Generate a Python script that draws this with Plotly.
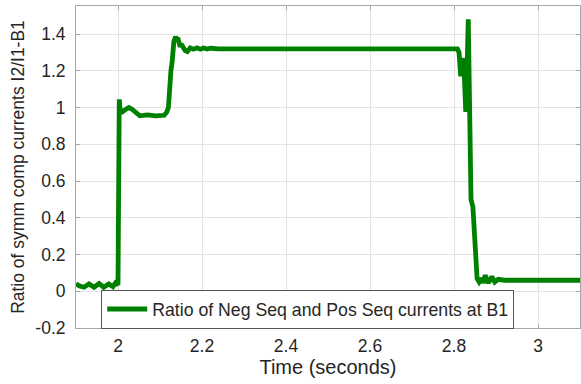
import plotly.graph_objects as go

t = [1.900, 1.907, 1.919, 1.931, 1.943, 1.955, 1.966, 1.978, 1.988, 1.994, 2.000, 2.0015, 2.003, 2.0045,
     2.006, 2.010, 2.018, 2.026, 2.034, 2.044, 2.052, 2.070, 2.090, 2.110, 2.116, 2.120, 2.123,
     2.126, 2.129, 2.133, 2.137, 2.140, 2.142, 2.147, 2.152, 2.160, 2.165, 2.172, 2.180, 2.188,
     2.196, 2.204, 2.212, 2.220, 2.240, 2.400, 2.600, 2.808, 2.812, 2.816, 2.819, 2.8225, 2.825,
     2.828, 2.831, 2.834, 2.8405, 2.845, 2.855, 2.860, 2.866, 2.870, 2.874, 2.882, 2.890, 2.897,
     2.905, 2.920, 3.000, 3.100]
ratio = [0.042, 0.030, 0.022, 0.040, 0.022, 0.042, 0.022, 0.040, 0.025, 0.045, 0.035, 0.60, 1.045, 1.00,
         0.975, 0.975, 0.990, 1.000, 0.990, 0.970, 0.955, 0.960, 0.955, 0.958, 0.975, 1.000, 1.150,
         1.200, 1.250, 1.360, 1.385, 1.370, 1.380, 1.340, 1.340, 1.310, 1.305, 1.325, 1.318, 1.325,
         1.318, 1.324, 1.319, 1.323, 1.320, 1.320, 1.320, 1.320, 1.300, 1.170, 1.250, 1.268, 1.150,
         0.977, 1.200, 1.480, 0.500, 0.460, 0.069, 0.050, 0.070, 0.045, 0.087, 0.045, 0.080, 0.050,
         0.065, 0.060, 0.060, 0.060]

x_ticks = [2, 2.2, 2.4, 2.6, 2.8, 3]
x_tick_labels = ["2", "2.2", "2.4", "2.6", "2.8", "3"]
y_ticks = [-0.2, 0, 0.2, 0.4, 0.6, 0.8, 1.0, 1.2, 1.4]
y_tick_labels = ["-0.2", "0", "0.2", "0.4", "0.6", "0.8", "1", "1.2", "1.4"]

series_name = "Ratio of Neg Seq and Pos Seq currents at B1"

fig = go.Figure()
fig.add_trace(go.Scatter(x=t, y=ratio, mode="lines", name=series_name,
                         line=dict(color="#008000", width=4.8)))

font_family = "Liberation Sans, Arial, sans-serif"
axis_common = dict(showgrid=True, gridcolor="#e3e3e3", gridwidth=1, zeroline=False,
                   showline=True, linecolor="#a6a6a6", linewidth=1, mirror="ticks",
                   ticks="inside", ticklen=4, tickcolor="#a6a6a6", automargin=False,
                   tickfont=dict(family=font_family, size=17.5, color="#262626"))

fig.update_layout(
    width=581, height=384,
    margin=dict(l=76, r=1, t=6, b=56),
    paper_bgcolor="white", plot_bgcolor="white",
    showlegend=True,
    legend=dict(x=0.05, y=0.118, xanchor="left", yanchor="top",
                bgcolor="white", bordercolor="#555555", borderwidth=1,
                font=dict(family=font_family, size=17.7, color="#262626"),
                itemwidth=40, tracegroupgap=0),
    xaxis=dict(range=[1.9, 3.1], tickvals=x_ticks, ticktext=x_tick_labels, ticklabelstandoff=2,
               title=dict(text="Time (seconds)", font=dict(family=font_family, size=20, color="#262626"),
                          standoff=4),
               **axis_common),
    yaxis=dict(range=[-0.2, 1.553], tickvals=y_ticks, ticktext=y_tick_labels, ticklabelstandoff=6,
               title=dict(text="Ratio of symm comp currents I2/I1-B1",
                          font=dict(family=font_family, size=17.5, color="#262626"), standoff=6),
               **axis_common),
)

fig.write_html("out.html", config={"displayModeBar": False},
               post_script="document.body.style.margin='0px';document.body.style.overflow='hidden';")
